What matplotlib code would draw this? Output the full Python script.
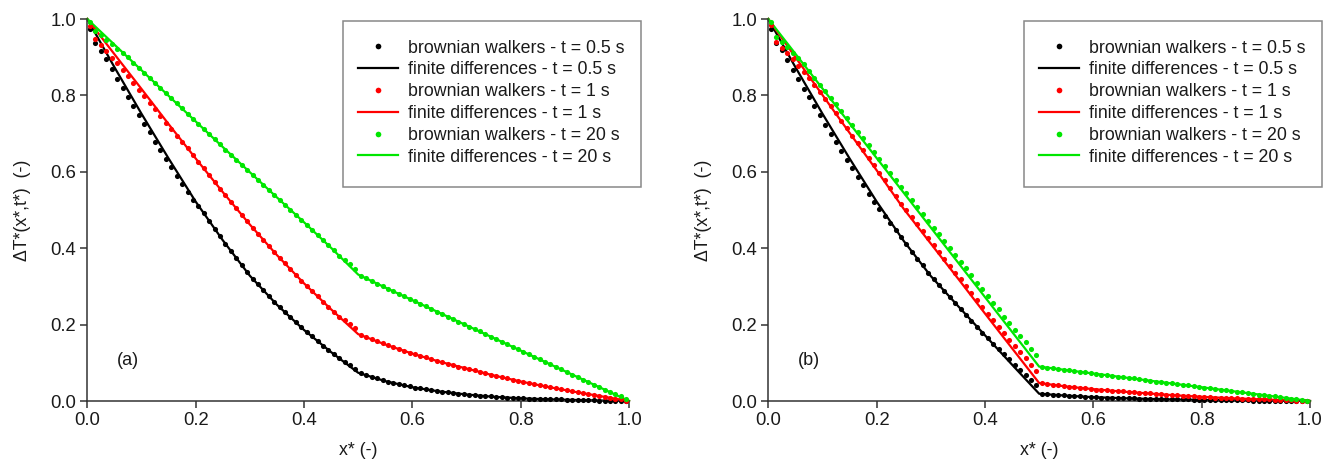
import numpy as np
import matplotlib
matplotlib.use("Agg")
import matplotlib.pyplot as plt
from matplotlib.patches import Rectangle

plt.rcParams['font.family'] = ['Liberation Sans', 'DejaVu Sans']

# walker positions (bin centres) and finite-difference grid
x_dots = np.round(np.arange(100) * 0.01 + 0.005, 3)
x_line = [0.00, 0.05, 0.10, 0.15, 0.20, 0.25, 0.30, 0.35, 0.40, 0.45, 0.50,
          0.55, 0.60, 0.65, 0.70, 0.75, 0.80, 0.85, 0.90, 0.95, 1.00]

labels = ['brownian walkers - t = 0.5 s', 'finite differences - t = 0.5 s',
          'brownian walkers - t = 1 s', 'finite differences - t = 1 s',
          'brownian walkers - t = 20 s', 'finite differences - t = 20 s']
colors = ['#000000', '#ff0000', '#00e600']

# ---- panel (a)
a_dots_05 = [0.975, 0.937, 0.917, 0.894, 0.869, 0.843, 0.819, 0.796, 0.773, 0.750,
             0.726, 0.703, 0.679, 0.656, 0.634, 0.612, 0.590, 0.569, 0.548, 0.526,
             0.510, 0.492, 0.472, 0.451, 0.431, 0.412, 0.393, 0.375, 0.356, 0.337,
             0.320, 0.305, 0.290, 0.275, 0.260, 0.245, 0.232, 0.219, 0.206, 0.193,
             0.180, 0.169, 0.157, 0.145, 0.134, 0.123, 0.112, 0.102, 0.093, 0.084,
             0.072, 0.067, 0.063, 0.059, 0.054, 0.050, 0.047, 0.044, 0.041, 0.038,
             0.035, 0.033, 0.031, 0.028, 0.026, 0.024, 0.023, 0.021, 0.019, 0.018,
             0.016, 0.015, 0.014, 0.013, 0.012, 0.011, 0.010, 0.009, 0.008, 0.008,
             0.007, 0.006, 0.006, 0.005, 0.005, 0.004, 0.004, 0.004, 0.003, 0.003,
             0.003, 0.002, 0.002, 0.002, 0.001, 0.001, 0.001, 0.001, 0.000, 0.000]
a_dots_1 = [0.981, 0.947, 0.932, 0.916, 0.899, 0.884, 0.867, 0.850, 0.832, 0.815,
            0.799, 0.781, 0.764, 0.747, 0.729, 0.712, 0.695, 0.678, 0.661, 0.644,
            0.626, 0.609, 0.591, 0.573, 0.556, 0.539, 0.522, 0.505, 0.487, 0.470,
            0.454, 0.438, 0.422, 0.406, 0.390, 0.375, 0.360, 0.345, 0.330, 0.315,
            0.301, 0.288, 0.274, 0.260, 0.247, 0.234, 0.221, 0.211, 0.201, 0.190,
            0.172, 0.167, 0.162, 0.156, 0.151, 0.146, 0.141, 0.136, 0.131, 0.126,
            0.122, 0.118, 0.114, 0.109, 0.105, 0.101, 0.098, 0.094, 0.090, 0.087,
            0.083, 0.080, 0.076, 0.072, 0.069, 0.065, 0.062, 0.059, 0.056, 0.053,
            0.050, 0.047, 0.044, 0.041, 0.038, 0.036, 0.033, 0.031, 0.028, 0.025,
            0.023, 0.020, 0.018, 0.016, 0.013, 0.011, 0.008, 0.006, 0.004, 0.001]
a_dots_20 = [0.993, 0.968, 0.957, 0.945, 0.934, 0.922, 0.912, 0.900, 0.886, 0.873,
             0.859, 0.846, 0.833, 0.819, 0.806, 0.792, 0.779, 0.766, 0.752, 0.739,
             0.725, 0.712, 0.699, 0.685, 0.672, 0.658, 0.645, 0.632, 0.619, 0.606,
             0.592, 0.579, 0.566, 0.553, 0.540, 0.527, 0.514, 0.501, 0.488, 0.475,
             0.461, 0.448, 0.435, 0.421, 0.408, 0.394, 0.380, 0.369, 0.358, 0.345,
             0.328, 0.321, 0.314, 0.307, 0.300, 0.294, 0.287, 0.281, 0.274, 0.267,
             0.261, 0.254, 0.248, 0.241, 0.234, 0.228, 0.221, 0.215, 0.208, 0.201,
             0.195, 0.188, 0.182, 0.175, 0.168, 0.162, 0.155, 0.149, 0.142, 0.135,
             0.129, 0.122, 0.116, 0.109, 0.102, 0.096, 0.089, 0.083, 0.076, 0.069,
             0.063, 0.056, 0.050, 0.043, 0.036, 0.030, 0.024, 0.018, 0.014, 0.005]
a_line_05 = [1.000, 0.874, 0.752, 0.635, 0.522, 0.421, 0.328, 0.252, 0.186, 0.128, 0.074,
             0.052, 0.036, 0.025, 0.017, 0.011, 0.007, 0.0045, 0.0027, 0.0012, 0.0]
a_line_1 = [1.000, 0.908, 0.817, 0.725, 0.635, 0.547, 0.462, 0.382, 0.308, 0.240, 0.175,
            0.148, 0.124, 0.103, 0.085, 0.067, 0.051, 0.037, 0.024, 0.012, 0.0]
a_line_20 = [1.000, 0.933, 0.866, 0.799, 0.732, 0.665, 0.599, 0.533, 0.468, 0.401, 0.331,
             0.297, 0.264, 0.231, 0.198, 0.165, 0.132, 0.099, 0.066, 0.033, 0.0]

# ---- panel (b)
b_dots_05 = [0.975, 0.936, 0.918, 0.892, 0.867, 0.842, 0.818, 0.795, 0.771, 0.748,
             0.723, 0.700, 0.678, 0.655, 0.632, 0.609, 0.587, 0.565, 0.543, 0.521,
             0.503, 0.485, 0.467, 0.448, 0.429, 0.410, 0.391, 0.373, 0.355, 0.336,
             0.319, 0.304, 0.288, 0.272, 0.257, 0.241, 0.226, 0.210, 0.195, 0.179,
             0.164, 0.149, 0.136, 0.122, 0.109, 0.095, 0.082, 0.069, 0.056, 0.042,
             0.019, 0.018, 0.017, 0.016, 0.015, 0.014, 0.013, 0.012, 0.011, 0.010,
             0.010, 0.009, 0.009, 0.008, 0.008, 0.007, 0.007, 0.007, 0.006, 0.006,
             0.005, 0.005, 0.005, 0.005, 0.004, 0.004, 0.004, 0.004, 0.003, 0.003,
             0.003, 0.003, 0.003, 0.002, 0.002, 0.002, 0.002, 0.002, 0.002, 0.001,
             0.001, 0.001, 0.001, 0.001, 0.001, 0.001, 0.000, 0.000, 0.000, 0.000]
b_dots_1 = [0.985, 0.940, 0.925, 0.910, 0.894, 0.878, 0.861, 0.845, 0.827, 0.809,
            0.791, 0.772, 0.753, 0.734, 0.714, 0.695, 0.676, 0.656, 0.636, 0.617,
            0.598, 0.578, 0.558, 0.537, 0.517, 0.499, 0.481, 0.463, 0.444, 0.426,
            0.409, 0.391, 0.373, 0.354, 0.336, 0.319, 0.300, 0.282, 0.264, 0.245,
            0.228, 0.211, 0.194, 0.177, 0.160, 0.144, 0.128, 0.112, 0.095, 0.079,
            0.046, 0.044, 0.043, 0.041, 0.039, 0.037, 0.036, 0.035, 0.033, 0.032,
            0.030, 0.029, 0.028, 0.027, 0.026, 0.025, 0.024, 0.023, 0.022, 0.021,
            0.020, 0.019, 0.018, 0.017, 0.016, 0.015, 0.014, 0.013, 0.012, 0.011,
            0.011, 0.010, 0.009, 0.009, 0.008, 0.007, 0.007, 0.006, 0.006, 0.005,
            0.005, 0.004, 0.004, 0.003, 0.003, 0.002, 0.002, 0.001, 0.001, 0.000]
b_dots_20 = [0.991, 0.953, 0.940, 0.926, 0.912, 0.897, 0.882, 0.864, 0.845, 0.827,
             0.812, 0.794, 0.777, 0.758, 0.741, 0.723, 0.705, 0.688, 0.669, 0.651,
             0.634, 0.616, 0.598, 0.579, 0.561, 0.544, 0.526, 0.508, 0.489, 0.471,
             0.454, 0.436, 0.419, 0.400, 0.382, 0.365, 0.347, 0.329, 0.310, 0.292,
             0.275, 0.257, 0.240, 0.221, 0.204, 0.187, 0.171, 0.154, 0.137, 0.121,
             0.089, 0.087, 0.086, 0.084, 0.082, 0.080, 0.078, 0.077, 0.075, 0.073,
             0.071, 0.069, 0.068, 0.066, 0.064, 0.062, 0.060, 0.059, 0.057, 0.055,
             0.053, 0.051, 0.050, 0.048, 0.046, 0.044, 0.042, 0.041, 0.039, 0.037,
             0.035, 0.033, 0.032, 0.030, 0.028, 0.026, 0.024, 0.023, 0.021, 0.019,
             0.017, 0.015, 0.014, 0.012, 0.010, 0.008, 0.006, 0.005, 0.003, 0.001]
b_line_05 = [1.000, 0.874, 0.752, 0.635, 0.522, 0.419, 0.327, 0.249, 0.172, 0.095, 0.019,
             0.014, 0.010, 0.0075, 0.0055, 0.004, 0.003, 0.002, 0.0013, 0.0006, 0.0]
b_line_1 = [1.000, 0.900, 0.801, 0.702, 0.604, 0.503, 0.412, 0.321, 0.229, 0.138, 0.047,
            0.038, 0.031, 0.025, 0.020, 0.015, 0.011, 0.0075, 0.0048, 0.0022, 0.0]
b_line_20 = [1.000, 0.909, 0.818, 0.727, 0.636, 0.545, 0.454, 0.363, 0.272, 0.181, 0.090,
             0.081, 0.072, 0.063, 0.054, 0.045, 0.036, 0.027, 0.018, 0.009, 0.0]

panels = [
    ('(a)', [a_dots_05, a_dots_1, a_dots_20], [a_line_05, a_line_1, a_line_20]),
    ('(b)', [b_dots_05, b_dots_1, b_dots_20], [b_line_05, b_line_1, b_line_20]),
]

W, H = 1337, 468
fig = plt.figure(figsize=(W / 100, H / 100), dpi=100)
axes_left = [87.3, 768.3]
spine_col = '#333333'
text_col = '#1a1a1a'

for (tag, dots, lines), left in zip(panels, axes_left):
    ax = fig.add_axes([left / W, 67 / H, 541.7 / W, 382 / H])
    for i in range(3):
        ax.plot(x_dots, dots[i], 'o', color=colors[i], ms=3.7, mew=0,
                label=labels[2 * i], clip_on=False, zorder=3)
        ax.plot(x_line, lines[i], '-', color=colors[i], lw=1.6,
                label=labels[2 * i + 1], clip_on=False, zorder=2)

    ax.set_xlim(0, 1)
    ax.set_ylim(0, 1)
    ax.set_xticks([0, 0.2, 0.4, 0.6, 0.8, 1.0])
    ax.set_yticks([0, 0.2, 0.4, 0.6, 0.8, 1.0])
    ax.xaxis.set_major_formatter(matplotlib.ticker.FormatStrFormatter('%.1f'))
    ax.yaxis.set_major_formatter(matplotlib.ticker.FormatStrFormatter('%.1f'))
    for s in ['top', 'right']:
        ax.spines[s].set_visible(False)
    for s in ['left', 'bottom']:
        ax.spines[s].set_color(spine_col)
        ax.spines[s].set_linewidth(1.1)
    ax.tick_params(direction='out', length=5, width=1.1, color=spine_col,
                   labelsize=13.3, labelcolor=text_col, pad=3)
    ax.set_xlabel('x* (-)', fontsize=12.8, color=text_col, labelpad=9)
    ax.set_ylabel('ΔT*(x*,t*)  (-)', fontsize=12.8, color=text_col, labelpad=14)
    ax.text(0.075, 0.107, tag, fontsize=13, color=text_col,
            ha='center', va='center')

    # legend box (Origin style with empty padding)
    ax.add_patch(Rectangle((0.4715, 0.561), 0.5507, 0.4346, transform=ax.transAxes,
                           facecolor='white', edgecolor='#888888', lw=1.1,
                           clip_on=False, zorder=4))
    leg = ax.legend(loc='center left', bbox_to_anchor=(0.499, 0.781),
                    frameon=False, fontsize=12.8, borderpad=0, borderaxespad=0,
                    handlelength=2.3, handletextpad=0.52, labelspacing=0.27,
                    markerscale=1.1)
    leg.set_zorder(5)
    for t in leg.get_texts():
        t.set_color(text_col)

fig.savefig('out.png', dpi=100)
